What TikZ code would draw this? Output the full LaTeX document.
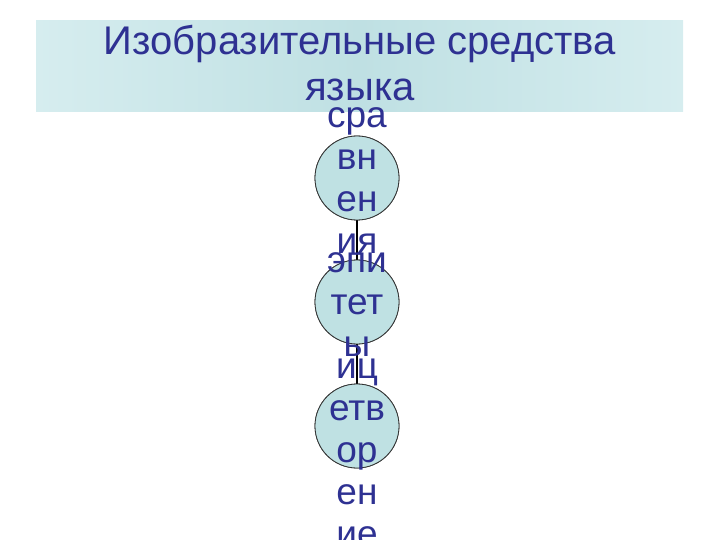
\documentclass[tikz,border=0pt]{standalone}
\usepackage{fontspec}
\setmainfont{Liberation Sans}
\definecolor{titleblue}{HTML}{2E3192}
\definecolor{bandmid}{HTML}{BFE0E3}
\definecolor{bandedge}{HTML}{D6EDEF}
\definecolor{bubblefill}{HTML}{BFE1E3}
\begin{document}
\begin{tikzpicture}[x=1pt,y=-1pt,
  bubble/.style={circle,draw=black!80,line width=0.8pt,fill=bubblefill,minimum size=84pt,inner sep=0pt},
  bubbletext/.style={text=titleblue,align=center,inner sep=0pt,font=\fontsize{37}{42}\selectfont},
  joint/.style={draw=black,line width=1.5pt}]
\useasboundingbox (0,0) rectangle (720,540);

% title band
\shade[left color=bandedge,right color=bandedge,middle color=bandmid] (36,21) rectangle (683,112);
\node[text=titleblue,align=center,inner sep=0pt,font=\fontsize{40}{46}\selectfont,anchor=north] (title) at (360,25) {Изобразительные средства\\языка};

% circles
\node[bubble] (sravn) at (357,178) {};
\node[bubble] (epit) at (357,302) {};
\node[bubble] (olic) at (357,426) {};

\draw[joint] (sravn.south) -- (epit.north);
\draw[joint] (epit.south) -- (olic.north);

\node[bubble] at (sravn) {};
\node[bubble] at (olic) {};
\node[bubbletext] (olictext) at (357,432) {ол\\иц\\етв\\ор\\ен\\ие};
\node[bubble] at (epit) {};
\node[bubbletext] (epittext) at (357,305) {эпи\\тет\\ы};
\node[bubbletext] (sravntext) at (357,181) {сра\\вн\\ен\\ия};
\end{tikzpicture}
\end{document}
